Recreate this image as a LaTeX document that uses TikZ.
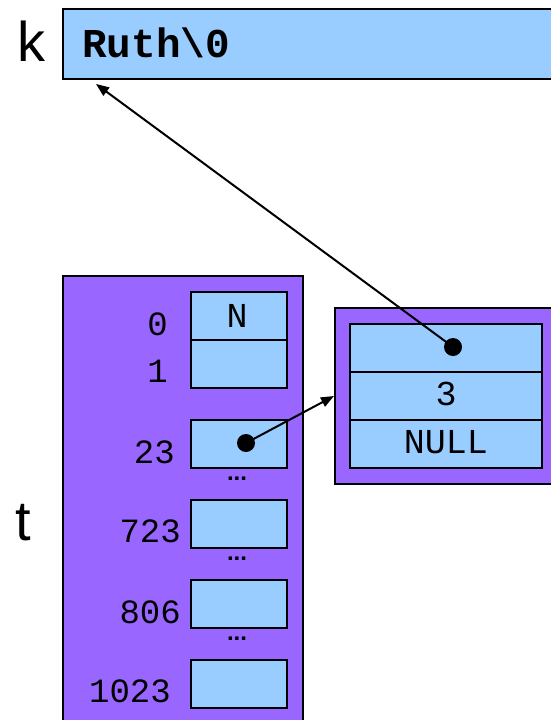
\documentclass[tikz,border=0pt]{standalone}
\usepackage{fontspec}
\setmainfont{Liberation Sans}
\newfontfamily\codefont{Liberation Mono}
\usetikzlibrary{arrows.meta}
\definecolor{cellblue}{HTML}{99CCFF}
\definecolor{boxpurple}{HTML}{9966FF}
\begin{document}
\begin{tikzpicture}[x=1pt,y=-1pt,
  cell/.style={draw=black,line width=2pt,fill=cellblue,minimum width=96pt,minimum height=48pt,inner sep=0pt,anchor=north west},
  ncell/.style={cell,minimum width=192pt},
  frame/.style={draw=black,line width=2pt,fill=boxpurple},
  celltext/.style={anchor=base,inner sep=0pt,font=\codefont\fontsize{35}{35}\selectfont},
  idx/.style={anchor=base east,inner sep=0pt,font=\codefont\fontsize{34}{34}\selectfont},
  dots/.style={anchor=base,inner sep=0pt,font=\bfseries\fontsize{24}{24}\selectfont},
  big/.style={anchor=base west,inner sep=0pt,font=\fontsize{56}{56}\selectfont},
  ptr/.style={line width=2pt,-{Triangle[length=13pt,width=10pt]}},
  dot/.style={circle,fill=black,inner sep=0pt,minimum size=18pt}]
\useasboundingbox (0,0) rectangle (550,720);
% top string box
\node[draw=black,line width=2pt,fill=cellblue,minimum width=500pt,minimum height=70pt,inner sep=0pt,anchor=north west] (kbox) at (62,8) {};
\node[anchor=base west,inner sep=0pt,font=\codefont\bfseries\fontsize{41}{41}\selectfont] (ruth) at (82,57) {Ruth\textbackslash0};
\node[big] (klab) at (17,61) {k};
% table t
\node[frame,minimum width=240pt,minimum height=460pt,inner sep=0pt,anchor=north west] (tbox) at (62,275) {};
\node[big] (tlab) at (15,540) {t};
\node[cell] (c0) at (190,291) {};
\node[celltext] (nlab) at (237,327) {N};
\node[cell] (c1) at (190,339) {};
\node[cell] (c23) at (190,419) {};
\node[cell] (c723) at (190,499) {};
\node[cell] (c806) at (190,579) {};
\node[cell] (c1023) at (190,659) {};
\node[idx] (i0) at (168,335) {0};
\node[idx] (i1) at (168,382) {1};
\node[idx] (i23) at (175,463) {23};
\node[idx] (i723) at (181,542) {723};
\node[idx] (i806) at (181,623) {806};
\node[idx] (i1023) at (171,702) {1023};
\node[dots] (d1) at (237,480) {...};
\node[dots] (d2) at (237,560) {...};
\node[dots] (d3) at (237,640) {...};
% list node
\node[frame,minimum width=222pt,minimum height=176pt,inner sep=0pt,anchor=north west] (nbox) at (334,307) {};
\node[ncell] (n1) at (349,323) {};
\node[ncell] (n2) at (349,371) {};
\node[ncell] (n3) at (349,419) {};
\node[celltext] (three) at (446,405) {3};
\node[celltext] (null) at (446,453) {NULL};
% pointers
\node[dot] (p23) at (246,443) {};
\node[dot] (pk) at (453,347) {};
\coordinate (ktip) at (96,84);
\draw[ptr] (p23.center) -- (nbox.west);
\draw[ptr] (pk.center) -- (ktip);
\end{tikzpicture}
\end{document}
